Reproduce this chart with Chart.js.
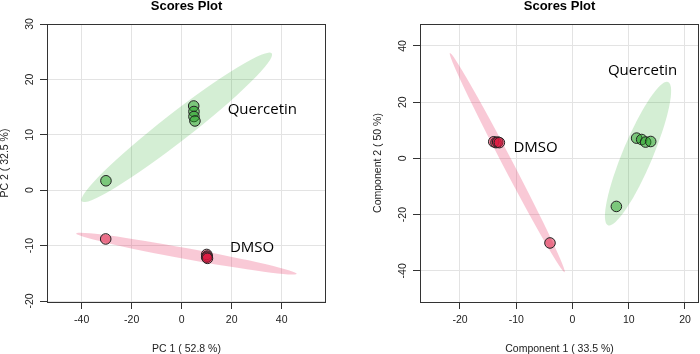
<!DOCTYPE html>
<html>
<head>
<meta charset="utf-8">
<script src="https://cdn.jsdelivr.net/npm/chart.js@4"></script>
<style>
  html, body { margin: 0; padding: 0; background: #fff; }
  #wrap { position: relative; width: 700px; height: 354px; }
  canvas { position: absolute; top: 0; }
</style>
</head>
<body>
<div id="wrap">
  <canvas id="pcaChart" width="350" height="354" style="left:0"></canvas>
  <canvas id="plsChart" width="350" height="354" style="left:350px"></canvas>
</div>
<script>
// PCA scores (left)
const pcaQuercetin = [[4.8, 15.2], [4.9, 14.2], [4.9, 13.3], [5.3, 12.5], [-30.3, 1.7]];
const pcaDmso = [[10.0, -11.6], [10.2, -11.9], [10.0, -12.1], [10.3, -12.3], [-30.4, -8.8]];
// major axis tips of the 95% ellipses
const pcaQuercetinEllipse = [[-40.0, -2.0], [36.0, 24.7]];
const pcaDmsoEllipse = [[-42.2, -7.8], [46.0, -15.1]];
const pcaXTicks = [-40, -20, 0, 20, 40];
const pcaYTicks = [-20, -10, 0, 10, 20, 30];

// PLS-DA scores (right)
const plsQuercetin = [[11.4, 7.2], [12.3, 6.7], [13.0, 5.8], [13.9, 6.0], [7.8, -17.1]];
const plsDmso = [[-14.0, 5.9], [-13.6, 5.6], [-13.3, 5.8], [-13.0, 5.6], [-4.0, -30.1]];
const plsQuercetinEllipse = [[17.0, 27.2], [6.3, -23.8]];
const plsDmsoEllipse = [[-21.8, 37.5], [-1.4, -40.5]];
const plsXTicks = [-20, -10, 0, 10, 20];
const plsYTicks = [-40, -20, 0, 20, 40];

const groupNames = ["Quercetin", "DMSO"];

const greenPt = "rgba(34,160,34,0.5)";
const redPt = "rgba(220,20,60,0.5)";
const greenFill = "rgba(40,170,40,0.2)";
const redFill = "rgba(230,40,90,0.25)";
const axisFont = "'Liberation Sans', Arial, sans-serif";

// ellipses, labels, frame and title
const decorPlugin = {
  id: "decor",
  beforeDatasetsDraw(chart) {
    const { ctx, scales: { x, y } } = chart;
    const cfg = chart.options.plugins.decor;
    ctx.save();
    cfg.ellipses.forEach(e => {
      const x1 = x.getPixelForValue(e.tips[0][0]), y1 = y.getPixelForValue(e.tips[0][1]);
      const x2 = x.getPixelForValue(e.tips[1][0]), y2 = y.getPixelForValue(e.tips[1][1]);
      const r = Math.hypot(x2 - x1, y2 - y1) / 2;
      ctx.beginPath();
      ctx.ellipse((x1 + x2) / 2, (y1 + y2) / 2, r, e.half, Math.atan2(y2 - y1, x2 - x1), 0, Math.PI * 2);
      ctx.fillStyle = e.color;
      ctx.fill();
    });
    ctx.restore();
  },
  afterDraw(chart) {
    const { ctx, chartArea: a, scales: { x, y } } = chart;
    const cfg = chart.options.plugins.decor;
    ctx.save();
    ctx.font = "15px 'Open Sans', sans-serif";
    ctx.fillStyle = "#000";
    ctx.textAlign = "left";
    ctx.textBaseline = "alphabetic";
    cfg.labels.forEach(l => {
      ctx.fillText(l.text, x.getPixelForValue(l.at[0]), y.getPixelForValue(l.at[1]));
    });
    ctx.strokeStyle = "#333";
    ctx.lineWidth = 1;
    ctx.strokeRect(a.left + 0.5, a.top + 0.5, a.right - a.left - 1, a.bottom - a.top);
    ctx.font = "bold 13px " + axisFont;
    ctx.textAlign = "center";
    ctx.fillText("Scores Plot", (a.left + a.right) / 2, 10);
    ctx.restore();
  }
};

function groupSet(pts, color) {
  return {
    data: pts.map(p => ({ x: p[0], y: p[1] })),
    backgroundColor: color,
    borderColor: "#222",
    borderWidth: 1,
    pointRadius: 5.3
  };
}

function makeChart(id, o) {
  return new Chart(document.getElementById(id), {
    type: "scatter",
    data: { datasets: [groupSet(o.green, greenPt), groupSet(o.red, redPt)] },
    options: {
      responsive: false,
      animation: false,
      events: [],
      layout: { autoPadding: false, padding: { left: 0, right: o.padRight, top: 24, bottom: 0 } },
      plugins: {
        legend: { display: false },
        tooltip: { enabled: false },
        decor: {
          ellipses: [
            { tips: o.greenEllipse, half: o.greenHalf, color: greenFill },
            { tips: o.redEllipse, half: o.redHalf, color: redFill }
          ],
          labels: o.labels
        }
      },
      scales: {
        x: {
          type: "linear", min: o.xMin, max: o.xMax,
          afterBuildTicks: s => { s.ticks = o.xTicks.map(v => ({ value: v })); },
          afterFit: s => { s.height = 52; },
          grid: { color: "#e3e3e3", tickColor: "#333", tickLength: 7 },
          border: { display: false },
          ticks: { color: "#222", padding: 5, font: { family: axisFont, size: 10.5 } },
          title: { display: true, text: o.xTitle, color: "#222", padding: 0,
                   font: { family: axisFont, size: 10.5, lineHeight: 1 } }
        },
        y: {
          type: "linear", min: o.yMin, max: o.yMax,
          afterBuildTicks: s => { s.ticks = o.yTicks.map(v => ({ value: v })); },
          afterFit: s => { s.width = o.yWidth; },
          grid: { color: "#e3e3e3", tickColor: "#333", tickLength: 7 },
          border: { display: false },
          ticks: { color: "#222", padding: 2, minRotation: 90, maxRotation: 90, crossAlign: "center",
                   font: { family: axisFont, size: 10.5 } },
          title: { display: true, text: o.yTitle, color: "#222", padding: { top: o.yTitlePad, bottom: 0 },
                   font: { family: axisFont, size: 10.5, lineHeight: 1 } }
        }
      }
    },
    plugins: [decorPlugin]
  });
}

makeChart("pcaChart", {
  green: pcaQuercetin, red: pcaDmso,
  greenEllipse: pcaQuercetinEllipse, redEllipse: pcaDmsoEllipse,
  greenHalf: 14, redHalf: 5.5,
  labels: [{ text: groupNames[0], at: [18.4, 13.75] }, { text: groupNames[1], at: [19.3, -11.1] }],
  xTicks: pcaXTicks, yTicks: pcaYTicks,
  xMin: -53.88, xMax: 57.72, yMin: -20.18, yMax: 30.0,
  xTitle: "PC 1 ( 52.8 %)", yTitle: "PC 2 ( 32.5 %)",
  yWidth: 47, yTitlePad: 0, padRight: 24
});

makeChart("plsChart", {
  green: plsQuercetin, red: plsDmso,
  greenEllipse: plsQuercetinEllipse, redEllipse: plsDmsoEllipse,
  greenHalf: 15, redHalf: 5,
  labels: [{ text: groupNames[0], at: [6.3, 29.5] }, { text: groupNames[1], at: [-10.5, 2.4] }],
  xTicks: plsXTicks, yTicks: plsYTicks,
  xMin: -27.11, xMax: 22.49, yMin: -51.1, yMax: 47.8,
  xTitle: "Component 1 ( 33.5 %)", yTitle: "Component 2 ( 50 %)",
  yWidth: 70, yTitlePad: 23, padRight: 1
});
</script>
</body>
</html>
